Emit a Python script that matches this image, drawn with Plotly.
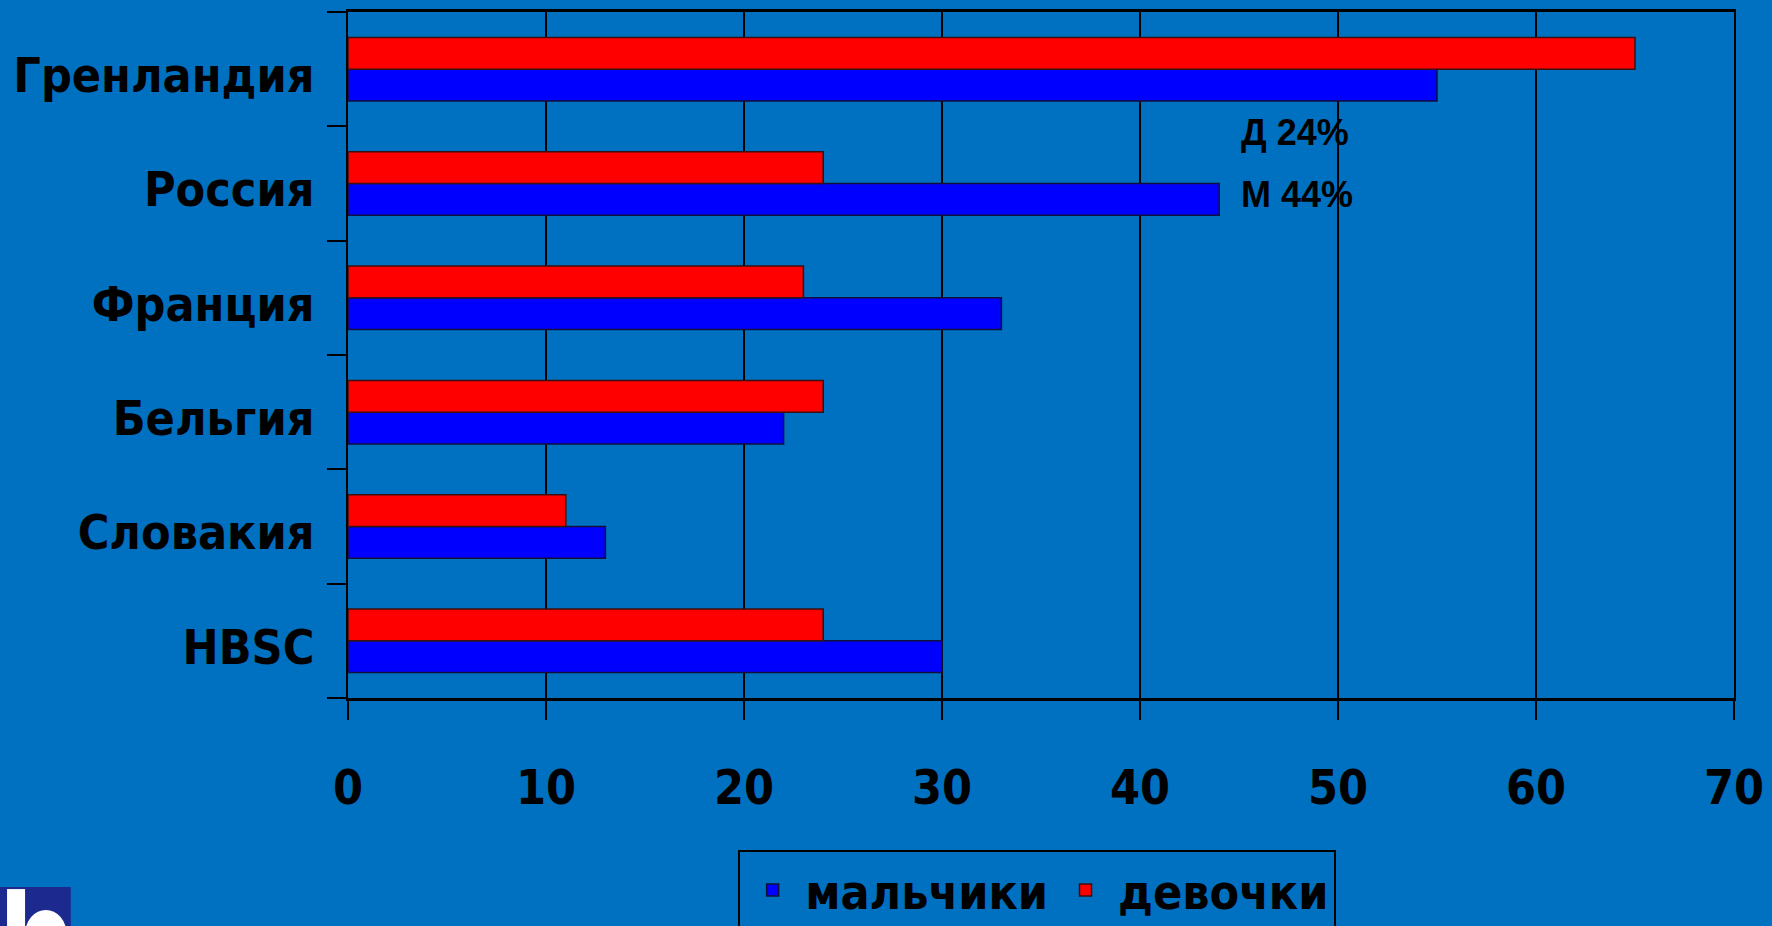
import plotly.graph_objects as go

# Data (top-to-bottom as shown in the chart)
categories = ["Гренландия", "Россия", "Франция", "Бельгия", "Словакия", "HBSC"]
boys = [55, 44, 33, 22, 13, 30]       # мальчики
girls = [65, 24, 23, 24, 11, 24]      # девочки
x_ticks = [0, 10, 20, 30, 40, 50, 60, 70]
note_texts = ["Д 24%", "М 44%"]

BG = "#0070C0"
FONT = "DejaVu Sans Condensed, DejaVu Sans, sans-serif"
NOTE_FONT = "Liberation Sans, Arial, sans-serif"

fig = go.Figure()
fig.add_trace(go.Bar(
    y=categories, x=boys, orientation="h", name="мальчики",
    marker=dict(color="#0000FF", line=dict(color="#10103a", width=1.5)),
))
fig.add_trace(go.Bar(
    y=categories, x=girls, orientation="h", name="девочки",
    marker=dict(color="#FF0000", line=dict(color="#3a1010", width=1.5)),
))

# annotations near Россия bars
rus_idx = len(categories) - 1 - categories.index("Россия")
fig.add_annotation(x=45, y=rus_idx + 0.45, xref="x", yref="y", text=note_texts[0],
                   showarrow=False, xanchor="left", yanchor="middle",
                   font=dict(family=NOTE_FONT, size=36, color="black", weight="bold"))
fig.add_annotation(x=45, y=rus_idx - 0.1, xref="x", yref="y", text=note_texts[1],
                   showarrow=False, xanchor="left", yanchor="middle",
                   font=dict(family=NOTE_FONT, size=36, color="black", weight="bold"))

# partial logo in bottom-left corner
fig.add_shape(type="rect", xref="paper", yref="paper",
              x0=-0.2511, x1=-0.2000, y0=-0.3324, y1=-0.2755,
              fillcolor="#1c2a90", line=dict(width=0), layer="above")
fig.add_shape(type="rect", xref="paper", yref="paper",
              x0=-0.2460, x1=-0.2330, y0=-0.3324, y1=-0.2785,
              fillcolor="white", line=dict(width=0), layer="above")
fig.add_shape(type="circle", xref="paper", yref="paper",
              x0=-0.2330, x1=-0.2030, y0=-0.38, y1=-0.309,
              fillcolor="white", line=dict(width=0), layer="above")

fig.update_layout(
    width=1772, height=926,
    margin=dict(l=348, r=38, t=12, b=228, autoexpand=False),
    paper_bgcolor=BG, plot_bgcolor=BG,
    barmode="group", bargap=0.445, bargroupgap=0,
    font=dict(family=FONT, color="black"),
    showlegend=True,
    legend=dict(
        orientation="h", x=0.2815, xanchor="left", y=-0.222, yanchor="top",
        bgcolor=BG, bordercolor="black", borderwidth=2,
        font=dict(family=FONT, size=48, color="black", weight="bold"),
        traceorder="normal", itemwidth=55,
    ),
    xaxis=dict(
        range=[0, 70], tickvals=x_ticks, ticktext=[str(v) for v in x_ticks],
        automargin=False,
        showgrid=True, gridcolor="black", gridwidth=2, zeroline=False,
        showline=True, linecolor="black", linewidth=3, mirror=True,
        ticks="outside", ticklen=19, tickwidth=2, tickcolor="black",
        ticklabelstandoff=26,
        tickfont=dict(family=FONT, size=48, color="black", weight="bold"),
    ),
    yaxis=dict(
        type="category", categoryorder="array", categoryarray=categories[::-1],
        automargin=False,
        tickson="boundaries", ticks="outside", ticklen=19, tickwidth=2, tickcolor="black",
        showgrid=False, zeroline=False,
        showline=True, linecolor="black", linewidth=2, mirror=True,
        ticklabelstandoff=22, ticklabelshift=6,
        tickfont=dict(family=FONT, size=48, color="black", weight="bold"),
    ),
)

fig.write_html(
    "out.html",
    config={"displayModeBar": False},
    post_script="document.body.style.margin='0';document.body.style.background='%s';" % BG,
)
